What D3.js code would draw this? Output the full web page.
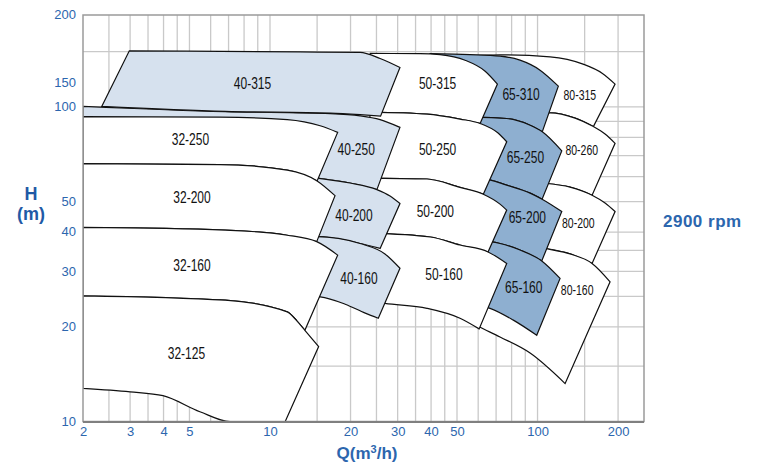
<!DOCTYPE html>
<html><head><meta charset="utf-8">
<script src="https://cdn.jsdelivr.net/npm/d3@7"></script>
<style>body{margin:0;background:#fff}svg{display:block}</style>
</head><body>
<svg id="c" width="764" height="464"></svg>
<script>
// ---- data ----
const xTickValues = [2,3,4,5,10,20,30,40,50,100,200];
const yTickValues = [10,20,30,40,50,100,119,196];
const yTickLabels = ["10","20","30","40","50","100","150","200"];
const xGridValues = [2.5,3,3.5,4,4.5,5,6,7,8,9,10,15,20,25,30,35,40,45,50,60,70,80,90,100,150,200];
const yGridValues = [15,20,25,30,35,40,50,60,70,80,90,100,150];

// pump models, listed in drawing order (back to front)
const names = ["80-315","80-260","80-200","80-160","65-310","65-250","65-200","65-160",
  "50-315","50-250","50-200","50-160","40-250","40-200","40-160","40-315",
  "32-250","32-200","32-160","32-125"];

// upper boundary (max impeller) of each field, [Q m3/h, H m]
const topCurves = [
  [[49.6,144.5],[72.4,146.4],[111.4,144.3],[148.0,136.8],[174.3,128.0],[194.9,118.2]],
  [[61.0,93.5],[111.4,95.8],[138.2,92.1],[161.7,86.6],[178.8,82.0],[194.9,76.6]],
  [[61.0,58.5],[108.3,57.1],[132.3,55.6],[159.9,52.4],[178.8,49.5],[194.9,46.5]],
  [[56.0,38.3],[86.0,37.5],[104.9,35.6],[132.3,34.1],[159.9,31.8],[186.7,27.8]],
  [[39.7,147.7],[56.0,146.6],[72.4,145.0],[86.0,140.8],[102.2,130.9],[119.6,116.4]],
  [[56.0,92.8],[76.7,91.9],[93.8,87.5],[104.2,83.4],[123.2,72.5]],
  [[56.0,59.8],[62.7,59.3],[76.7,56.4],[93.8,53.2],[104.0,50.9],[123.2,46.5]],
  [[58.4,37.7],[72.4,36.8],[86.0,35.1],[103.7,32.4],[121.4,28.5]],
  [[23.7,147.9],[36.4,147.7],[43.2,146.6],[53.6,140.8],[63.7,129.9],[70.8,118.2]],
  [[23.7,96.3],[38.6,94.9],[51.3,91.5],[61.0,88.6],[71.2,82.6],[76.7,77.5]],
  [[22.7,59.4],[38.6,59.0],[51.3,55.5],[62.7,52.8],[72.4,49.1],[76.7,47.0]],
  [[23.7,39.7],[39.7,38.6],[51.3,36.4],[65.3,34.6],[76.7,31.8]],
  [[2,100.4],[6.8,96.6],[16.8,95.2],[21.7,93.7],[25.8,91.1],[30.6,86.1]],
  [[2,63.0],[12.95,60.3],[15.25,59.3],[19.9,57.3],[25.1,54.6],[28.1,52.1],[30.6,49.3]],
  [[2,38.9],[12.95,38.6],[14.95,38.7],[21.7,36.8],[26.9,34.1],[30.6,30.7]],
  [[2.98,150.8],[12.95,149.6],[21.7,149.0],[25.8,142.6],[30.6,133.5]],
  [[2,93.2],[6.5,92.8],[11.6,91.1],[15.4,87.1],[17.9,83.0]],
  [[2,66.0],[6.5,65.6],[11.6,63.0],[15.0,58.2],[17.5,52.25]],
  [[2,41.4],[6.8,40.6],[11.6,39.1],[14.95,37.3],[17.9,33.8]],
  [[2,25.1],[6.8,24.3],[11.6,22.3],[12.6,20.9],[13.5,19.5],[15.2,17.3]]
];

// lower boundary (min impeller) of each field, [Q m3/h, H m]
const bottomCurves = [
  [[61.0,93.5],[111.4,95.8],[138.2,92.1],[161.7,86.6]],
  [[61.0,58.5],[108.3,57.1],[132.3,55.6],[159.9,52.4]],
  [[61.0,37.7],[104.9,35.6],[132.3,34.1],[159.9,31.8]],
  [[56.0,20.7],[60.5,20.0],[72.4,18.56],[93.8,16.5],[126.8,13.2]],
  [[56.0,92.8],[76.7,91.9],[93.8,87.5],[104.2,83.4]],
  [[56.0,59.8],[62.7,59.3],[76.7,56.4],[93.8,53.2],[104.0,50.9]],
  [[58.4,37.7],[72.4,36.8],[86.0,35.1],[103.7,32.4]],
  [[56.0,23.6],[66.45,22.9],[81.2,21.0],[99.3,18.8]],
  [[23.7,96.3],[38.6,94.9],[51.3,91.5],[61.0,88.6]],
  [[22.7,59.4],[38.6,59.0],[51.3,55.5],[62.7,52.8]],
  [[23.7,39.7],[39.7,38.6],[51.3,36.4],[65.3,34.6]],
  [[23.7,24.15],[26.9,23.75],[38.6,22.9],[51.3,21.3],[60.5,19.7]],
  [[2,63.0],[12.95,60.3],[15.25,59.3],[19.9,57.3],[25.1,54.6]],
  [[2,38.9],[12.95,38.6],[14.95,38.7],[21.7,36.8],[25.8,35.5]],
  [[2,26.2],[12.95,25.1],[15.4,24.9],[19.1,23.6],[22.7,22.1],[25.4,21.3]],
  [[2.35,100.4],[6.8,96.8],[16.8,95.6],[21.7,94.5],[25.9,93.5]],
  [[2,66.0],[6.5,65.6],[11.6,63.0],[15.0,58.2]],
  [[2,41.4],[6.8,40.6],[11.6,39.1],[14.95,37.3]],
  [[2,25.1],[6.8,24.3],[11.6,22.3],[12.6,20.9],[13.5,19.5]],
  [[2,12.75],[3.0,12.43],[3.98,12.08],[5.47,10.74],[7.09,10],[11.4,10]]
];

// label anchor of each field, [Q, H]
const labelPoints = [
  [143.9,109.0],[146.3,73.3],[142.1,42.8],[140.6,26.3],
  [86.8,109.4],[90.1,69.3],[91.6,44.4],[88.8,26.6],
  [42.3,118.8],[42.3,73.2],[41.5,46.6],[44.7,29.3],
  [21.0,73.2],[20.6,45.2],[21.5,28.6],[8.6,118.8],
  [5.04,78.7],[5.11,51.7],[5.11,31.3],[4.87,16.5]
];

// ---- drawing ----
const svg = d3.select("#c");
const x = d3.scaleLog().domain([2,250]).range([83,644]);
const y = d3.scaleLog().domain([10,196]).range([421.5,15]);
const blue = "#2c66ae";

svg.append("defs").append("clipPath").attr("id","plot")
  .append("rect").attr("x",x(2)).attr("y",y(196)).attr("width",x(250)-x(2)).attr("height",y(10)-y(196));

const grid = svg.append("g").attr("stroke","#c9c9c9").attr("stroke-width",1.3);
grid.selectAll("line.v").data(xGridValues).join("line").attr("class","v")
  .attr("x1",d=>x(d)).attr("x2",d=>x(d)).attr("y1",y(10)).attr("y2",y(196));
grid.selectAll("line.h").data(yGridValues).join("line").attr("class","h")
  .attr("y1",d=>y(d)).attr("y2",d=>y(d)).attr("x1",x(2)).attr("x2",x(250));

const line = d3.line().x(d=>x(d[0])).y(d=>y(d[1])).curve(d3.curveMonotoneX);
const fillOf = n => n.startsWith("40") ? "#d6e1ee" : n.startsWith("65") ? "#8eafd0" : "#ffffff";

const shapes = svg.append("g").attr("clip-path","url(#plot)");
names.forEach((n,i)=>{
  const t = line(topCurves[i]);
  const b = line(bottomCurves[i].slice().reverse());
  shapes.append("path")
    .attr("d", t + "L" + b.slice(1) + "Z")
    .attr("fill", fillOf(n))
    .attr("stroke","#111").attr("stroke-width",1.2).attr("stroke-linejoin","miter");
});

// frame
svg.append("rect").attr("x",x(2)).attr("y",y(196)).attr("width",x(250)-x(2)).attr("height",y(10)-y(196))
  .attr("fill","none").attr("stroke","#9a9a9a").attr("stroke-width",1.5);
svg.append("line").attr("x1",x(2)).attr("x2",x(250)).attr("y1",y(10)+0.5).attr("y2",y(10)+0.5)
  .attr("stroke","#808080").attr("stroke-width",2);

// labels in fields
const lab = svg.append("g").attr("font-family","'Liberation Sans', Arial, sans-serif").attr("fill","#111");
names.forEach((n,i)=>{
  const p = labelPoints[i];
  const small = n.startsWith("80");
  lab.append("text")
    .attr("transform",`translate(${x(p[0])},${y(p[1])}) scale(${small ? 0.7 : 0.75},1)`)
    .attr("text-anchor","middle").attr("dy","0.35em")
    .attr("font-size", small ? 15 : 16)
    .text(n);
});

// axes
const yAxis = svg.append("g").attr("transform",`translate(${x(2)},0)`)
  .call(d3.axisLeft(y).tickValues(yTickValues).tickFormat((d,i)=>yTickLabels[i]).tickSize(0).tickPadding(7));
const xAxis = svg.append("g").attr("transform",`translate(0,${y(10)})`)
  .call(d3.axisBottom(x).tickValues(xTickValues).tickFormat(d3.format("d")).tickSize(0).tickPadding(5));
[yAxis,xAxis].forEach(a=>{
  a.select(".domain").remove();
  a.selectAll("text").attr("fill",blue).attr("font-size",13)
    .attr("font-family","'Liberation Sans', Arial, sans-serif");
});
yAxis.selectAll("text").attr("dy","0.28em");

// titles
const tf = "'Liberation Sans', Arial, sans-serif";
svg.append("text").attr("x",31).attr("y",200).attr("text-anchor","middle")
  .attr("font-family",tf).attr("font-weight","bold").attr("font-size",18).attr("fill","#1f5aa6").text("H");
svg.append("text").attr("x",31).attr("y",220).attr("text-anchor","middle")
  .attr("font-family",tf).attr("font-weight","bold").attr("font-size",18).attr("fill","#1f5aa6").text("(m)");
const qt = svg.append("text").attr("x",367).attr("y",459).attr("text-anchor","middle")
  .attr("font-family",tf).attr("font-weight","bold").attr("font-size",17).attr("fill",blue);
qt.append("tspan").text("Q(m");
qt.append("tspan").attr("font-size",11).attr("dy","-6").text("3");
qt.append("tspan").attr("dy","6").text("/h)");
svg.append("text").attr("x",663).attr("y",227)
  .attr("font-family",tf).attr("font-weight","bold").attr("font-size",17).attr("letter-spacing","0.5").attr("fill",blue).text("2900 rpm");
</script>
</body></html>
